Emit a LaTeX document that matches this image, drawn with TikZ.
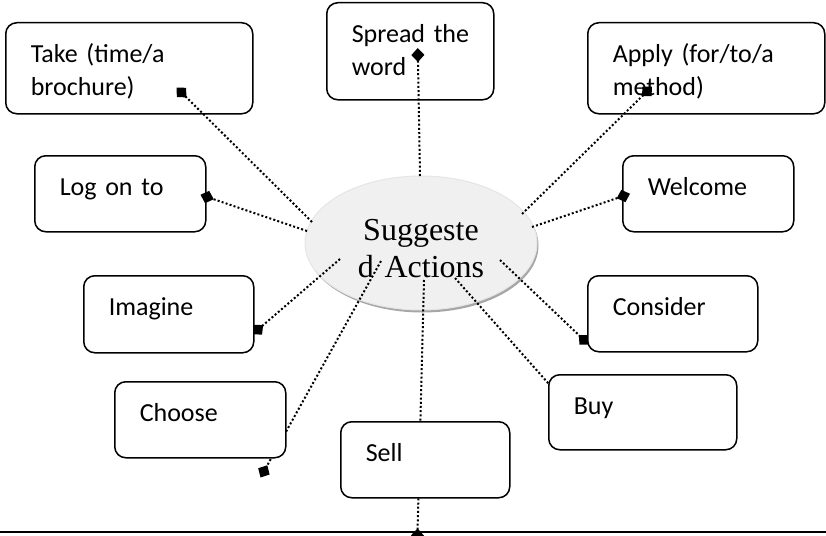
\documentclass[tikz,border=0pt]{standalone}
\usepackage{fontspec}
\setmainfont{Carlito}
\newfontfamily\actfont{Liberation Serif}
\usepackage{tikz}
\usetikzlibrary{arrows.meta,calc,shapes.geometric,shadows,backgrounds}
\pgfdeclarelayer{under}
\pgfsetlayers{background,under,main}

\begin{document}
\begin{tikzpicture}[
      x=1pt, y=-1pt,
      font=\fontsize{26}{32.5}\selectfont,
      card/.style={draw=black, line width=1.5pt, rounded corners=11pt, fill=white, anchor=north west, inner xsep=25pt, inner ysep=0pt, align=left, text height=40pt, text depth=36pt},
      link/.style={line width=2pt, dash pattern=on 2pt off 2.2pt},
      tip/.style={-{Turned Square[length=14pt,width=13pt,line width=0pt]}},
]
\useasboundingbox (0,0) rectangle (826,535);

\begin{pgfonlayer}{background}
\node[ellipse, minimum width=232pt, minimum height=134pt, inner sep=0pt, fill=black!6, draw=black!10, line width=1pt,
      drop shadow={shadow xshift=1.5pt, shadow yshift=-2.5pt, fill=black!35, opacity=1},
      text width=130pt, align=center, text height=31pt, text depth=37pt,
      font=\actfont\fontsize{32}{37}\selectfont] (act) at (421,243) {Suggeste\\d Actions};
\end{pgfonlayer}

\node[card, text width=197pt, text depth=51pt] (take) at (5,22) {Take (time/a\\brochure)};
\node[card, text width=117pt, text depth=57pt] (spread) at (326,2) {\mbox{Spread the}\\word};
\node[card, text width=187pt, text depth=51pt] (apply) at (587,22) {Apply (for/to/a\\method)};
\node[card, text width=121pt] (logon) at (34,155) {Log on to};
\node[card, text width=121pt] (welcome) at (622,155) {Welcome};
\node[card, text width=120pt, text depth=37pt] (imagine) at (83,275) {Imagine};
\node[card, text width=120pt] (consider) at (587,275) {Consider};
\node[card, text width=138pt, text depth=35pt] (buy) at (548,374) {Buy};
\node[card, text width=121pt] (choose) at (114,381) {Choose};
\node[card, text width=119pt] (sell) at (340,421) {Sell};

% ends of the links at the boxes
\coordinate (take_end) at ($(take.south east)+(-77,-27)$);
\coordinate (spread_end) at ($(spread.north)+(7.5,46)$);
\coordinate (apply_end) at ($(apply.south west)+(65,-28)$);
\coordinate (logon_end) at ($(logon.east)+(-6,1)$);
\coordinate (welcome_end) at ($(welcome.west)+(8,0)$);
\coordinate (imagine_end) at ($(imagine.east)+(-2,20)$);
\coordinate (choose_end) at ($(choose.south east)+(-26,19)$);
\coordinate (sell_end) at ($(sell.south)+(-8,44)$);
\coordinate (consider_end) at ($(consider.west)+(2,31)$);
\coordinate (buy_end) at ($(buy.north west)+(8,18)$);

\begin{pgfonlayer}{under}
\draw[link, tip] ($(act)+(-81,16)$) -- (imagine_end);
\draw[link, tip] ($(act)+(-40,18)$) -- (choose_end);
\draw[link, tip] ($(act)+(3,37)$) -- (sell_end);
\draw[link, tip] ($(act)+(79,17)$) -- (consider_end);
\draw[link] ($(act)+(34,35)$) -- (buy_end);
\end{pgfonlayer}

\draw[link, tip] ($(act)+(-109,-21)$) -- (take_end);
\draw[link, tip] ($(act)+(-1,-67)$) -- (spread_end);
\draw[link, tip] ($(act)+(101,-29)$) -- (apply_end);
\draw[link, tip] ($(act)+(-114,-12)$) -- (logon_end);
\draw[link, tip] ($(act)+(111,-16)$) -- (welcome_end);

\draw[line width=2.5pt] (0,532) -- (826,532);

\end{tikzpicture}
\end{document}
